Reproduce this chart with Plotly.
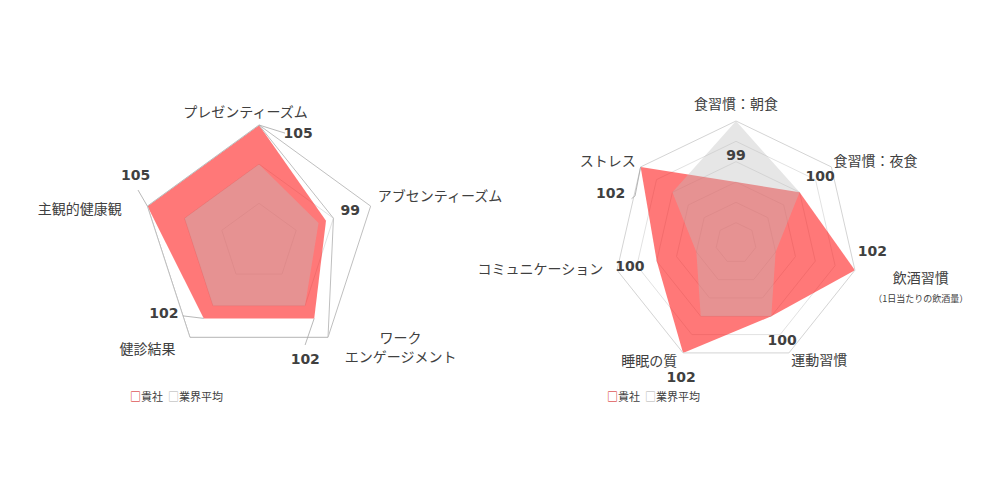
import plotly.graph_objects as go

# left radar: work-related indicators
left_categories = ["プレゼンティーズム", "アブセンティーズム", "ワーク<br>エンゲージメント", "健診結果", "主観的健康観"]
left_company = [105, 99, 102, 102, 105]
left_industry = [100, 98, 100, 100, 100]
left_outline = [105, 100, 105, 105, 105]

# right radar: lifestyle indicators
right_categories = ["食習慣：朝食", "食習慣：夜食",
                    "飲酒習慣<br><span style='font-size:9px'>（1日当たりの飲酒量）</span>",
                    "運動習慣", "睡眠の質", "コミュニケーション", "ストレス"]
right_company = [99, 100, 102, 100, 102, 100, 102]
right_industry = [102, 100, 98, 100, 100, 98, 100]

legend_names = ["貴社", "業界平均"]

# label placement (fraction of radius, angle in degrees clockwise from top)
left_cat_pos = [(1.10, 354), (1.59, 76), (1.51, 127), (1.32, 226), (1.55, 280)]
left_val_pos = [(0.975, 20), (0.82, 71.5), (1.08, 158.6), (1.015, 233), (1.19, 298)]
right_cat_pos = [(1.13, 0), (1.32, 60), (1.56, 104), (1.19, 145), (1.21, 216), (1.62, 262), (1.24, 302)]
right_val_pos = [(0.713, 0), (0.875, 52), (1.12, 94), (0.895, 155), (1.2, 202), (0.893, 257), (1.10, 291)]

FONT = "Noto Sans CJK JP"
NUM_FONT = "DejaVu Sans"
TXT = "#404040"
RED_FILL = "rgba(255,30,30,0.6)"
GRAY_FILL = "rgba(190,190,190,0.38)"
OVER = 1.7  # overlay polar is this much bigger so labels outside the chart are not clipped


def closed(v):
    return list(v) + [v[0]]


def keys(cats):
    # plain category keys for the categorical angular axis
    return ["c%d" % i for i in range(len(cats))]


fig = go.Figure()

# ---- left chart
lk = keys(left_categories)
fig.add_trace(go.Scatterpolar(r=closed(left_company), theta=closed(lk), fill="toself", fillcolor=RED_FILL,
                              line=dict(width=0), mode="lines", name=legend_names[0], subplot="polar"))
fig.add_trace(go.Scatterpolar(r=closed(left_industry), theta=closed(lk), fill="toself", fillcolor=GRAY_FILL,
                              line=dict(width=0), mode="lines", name=legend_names[1], subplot="polar"))
fig.add_trace(go.Scatterpolar(r=closed(left_outline), theta=closed(lk), mode="lines",
                              line=dict(color="#bfbfbf", width=1), subplot="polar"))

# ---- right chart
rk = keys(right_categories)
fig.add_trace(go.Scatterpolar(r=closed(right_company), theta=closed(rk), fill="toself", fillcolor=RED_FILL,
                              line=dict(width=0), mode="lines", name=legend_names[0], subplot="polar2"))
fig.add_trace(go.Scatterpolar(r=closed(right_industry), theta=closed(rk), fill="toself", fillcolor=GRAY_FILL,
                              line=dict(width=0), mode="lines", name=legend_names[1], subplot="polar2"))


# ---- text overlays (same centres, numeric angle, radius 1 = chart edge)
def add_labels(cats, vals, cat_pos, val_pos, sub):
    fig.add_trace(go.Scatterpolar(r=[p[0] for p in cat_pos], theta=[p[1] for p in cat_pos], mode="text",
                                  text=cats, textposition="middle center",
                                  textfont=dict(family=FONT, size=14, color=TXT), subplot=sub))
    fig.add_trace(go.Scatterpolar(r=[p[0] for p in val_pos], theta=[p[1] for p in val_pos], mode="text",
                                  text=["<b>%d</b>" % v for v in vals], textposition="middle center",
                                  textfont=dict(family=NUM_FONT, size=14, color=TXT), subplot=sub))


add_labels(left_categories, left_company, left_cat_pos, left_val_pos, "polar3")
add_labels(right_categories, right_company, right_cat_pos, right_val_pos, "polar4")

# leader lines from points to value labels
left_leaders = [[(1.0, 0), (0.957, 13.4)], [(0.8, 144), (0.958, 155.8)],
                [(0.8, 216), (0.901, 226)], [(1.0, 288), (1.123, 293.4)]]
for seg in left_leaders:
    fig.add_trace(go.Scatterpolar(r=[p[0] for p in seg], theta=[p[1] for p in seg], mode="lines",
                                  line=dict(color="#a6a6a6", width=0.8), subplot="polar3"))
right_leaders = [[(1.0, 308.6), (0.913, 295), (0.93, 293)]]
for seg in right_leaders:
    fig.add_trace(go.Scatterpolar(r=[p[0] for p in seg], theta=[p[1] for p in seg], mode="lines",
                                  line=dict(color="#a6a6a6", width=0.8), subplot="polar4"))


def cat_polar(domain, rng, dt, outer):
    return dict(domain=domain, bgcolor="rgba(0,0,0,0)", gridshape="linear",
                radialaxis=dict(range=rng, tick0=rng[0], dtick=dt, showticklabels=False, ticks="",
                                showline=False, gridcolor="#e2e2e2", gridwidth=1),
                angularaxis=dict(rotation=90, direction="clockwise", showticklabels=False, ticks="",
                                 showgrid=False, linecolor=outer, linewidth=1))


def overlay_polar(domain):
    return dict(domain=domain, bgcolor="rgba(0,0,0,0)",
                radialaxis=dict(range=[0, OVER], visible=False),
                angularaxis=dict(rotation=90, direction="clockwise", type="linear", visible=False))


W, H = 1000, 480


def dom(cx, cy, rad):
    # domain box around a centre given in pixels from the top-left
    return dict(x=[(cx - rad) / W, (cx + rad) / W], y=[1 - (cy + rad) / H, 1 - (cy - rad) / H])


fig.update_layout(
    width=W, height=H,
    margin=dict(l=0, r=0, t=0, b=0),
    paper_bgcolor="white",
    showlegend=False,
    font=dict(family=FONT, color=TXT),
    polar=cat_polar(dom(251, 234.4, 117.4), [90, 105], 5, "#bfbfbf"),
    polar2=cat_polar(dom(728, 235, 122), [96, 102], 1, "#d4d4d4"),
    polar3=overlay_polar(dom(251, 234.4, 117.4 * OVER)),
    polar4=overlay_polar(dom(728, 235, 122 * OVER)),
)

legend_text = ("<span style='color:#d00000'>□</span>%s  <span style='color:#b0b0b0'>□</span>%s"
               % (legend_names[0], legend_names[1]))
for x0 in [120, 597]:
    fig.add_annotation(x=x0 / W, y=1 - 388 / H, xref="paper", yref="paper", xanchor="left", yanchor="middle",
                       text=legend_text, showarrow=False, font=dict(family=FONT, size=11, color=TXT))

fig.write_html("out.html")
